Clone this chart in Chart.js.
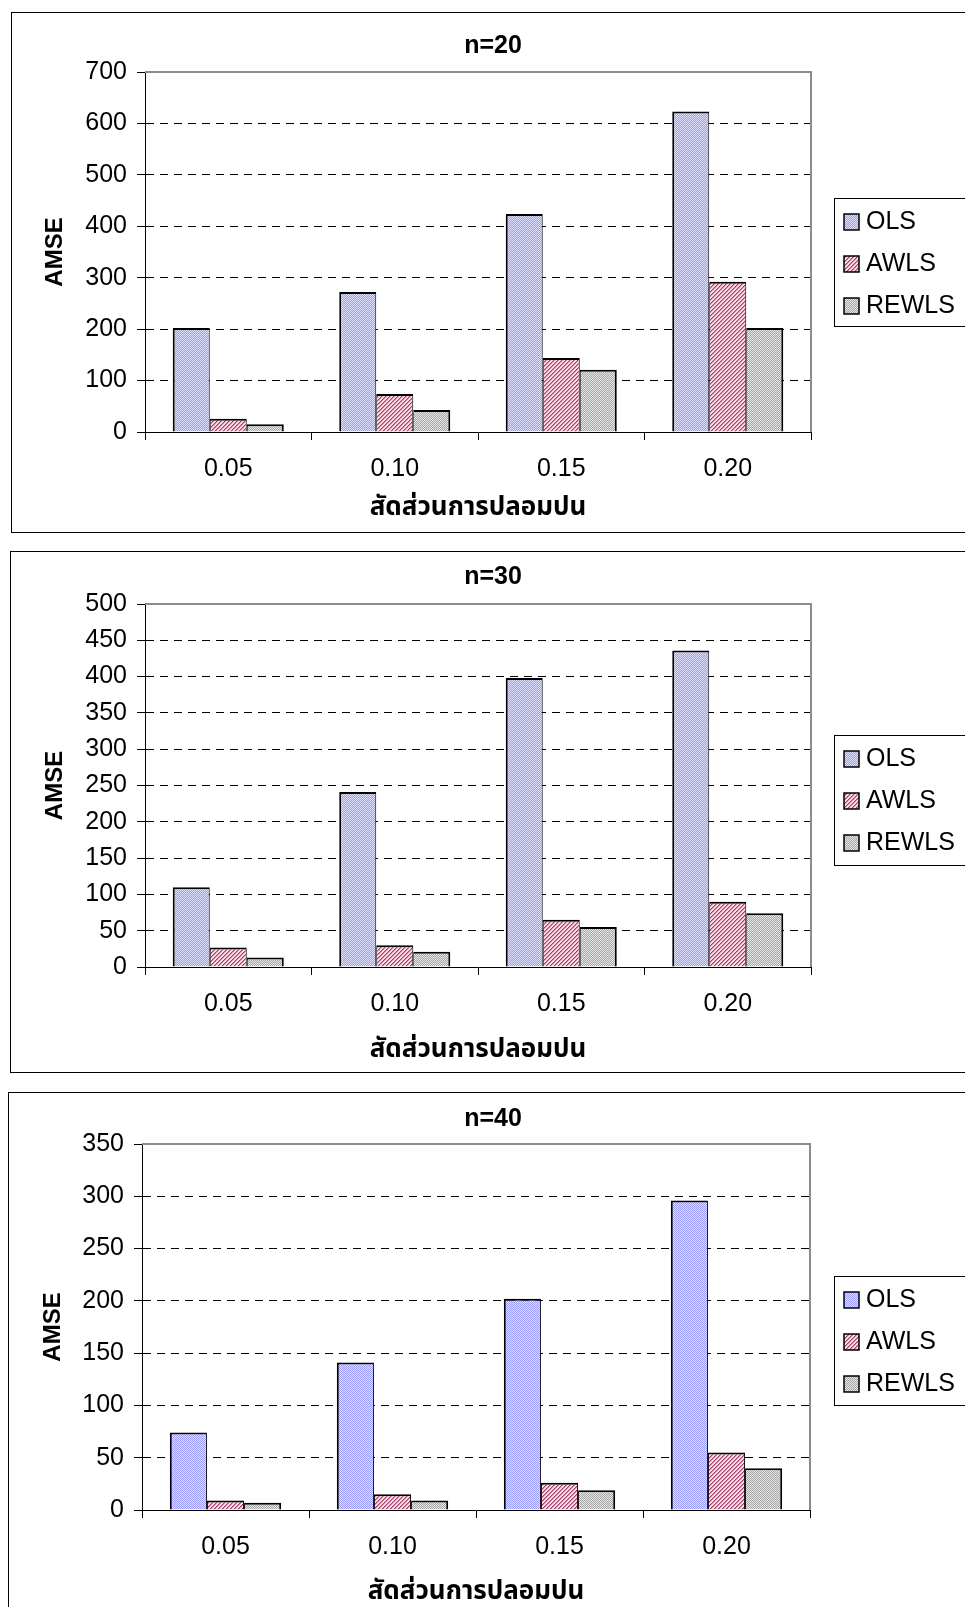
<!DOCTYPE html>
<html>
<head>
<meta charset="utf-8">
<script src="https://cdn.jsdelivr.net/npm/chart.js@4.4.1/dist/chart.umd.min.js"></script>
<style>
  html, body { margin: 0; padding: 0; background: #fff; width: 965px; height: 1607px; overflow: hidden; position: relative; }
  .frame { position: absolute; border: 1px solid #000; background: #fff; box-sizing: content-box; }
  canvas { display: block; }
</style>
</head>
<body>
<div class="frame" id="f1"><canvas id="c1"></canvas></div>
<div class="frame" id="f2"><canvas id="c2"></canvas></div>
<div class="frame" id="f3"><canvas id="c3"></canvas></div>
<script>
// data
const categories = ['0.05', '0.10', '0.15', '0.20'];
const seriesNames = ['OLS', 'AWLS', 'REWLS'];

const ols20 = [202, 272, 424, 623];
const awls20 = [26, 74, 144, 292];
const rewls20 = [15, 43, 121, 202];
const yTicks20 = [0, 100, 200, 300, 400, 500, 600, 700];

const ols30 = [110, 241, 398, 436];
const awls30 = [27, 30, 65, 90];
const rewls30 = [13, 21, 55, 74];
const yTicks30 = [0, 50, 100, 150, 200, 250, 300, 350, 400, 450, 500];

const ols40 = [74, 141, 202, 296];
const awls40 = [9, 15, 26, 55];
const rewls40 = [7, 9, 19, 40];
const yTicks40 = [0, 50, 100, 150, 200, 250, 300, 350];

const xTitle = 'สัดส่วนการปลอมปน';
const yTitle = 'AMSE';

const FONT = 'Arial, "Liberation Sans", sans-serif';
const THAI_FONT = 'Tahoma, "Noto Sans Thai", Loma, Garuda, Arial, sans-serif';

// fill patterns like the old excel hatches
function makePattern(size, painter) {
  const c = document.createElement('canvas');
  c.width = size; c.height = size;
  const x = c.getContext('2d');
  for (let i = 0; i < size; i++) {
    for (let j = 0; j < size; j++) {
      x.fillStyle = painter(i, j);
      x.fillRect(i, j, 1, 1);
    }
  }
  return x.createPattern(c, 'repeat');
}
const patterns = [
  makePattern(2, (i, j) => (i + j) % 2 ? '#dedeff' : '#9c9cff'),
  makePattern(4, (i, j) => ((i + j) % 4 === 0) ? '#a03c68' : ((i + j) % 4 === 1 ? '#d88aa6' : '#f8dce6')),
  makePattern(2, (i, j) => (i + j) % 2 ? '#e6e6e6' : '#a6a6a6')
];
const borders = [
  { top: 2, left: 2, right: 1, bottom: 0 },
  { top: 2, left: 1, right: 1, bottom: 0 },
  { top: 2, left: 1, right: 2, bottom: 0 }
];

const plotFrame = {
  id: 'plotFrame',
  beforeDatasetsDraw(chart) {
    const { ctx, chartArea: a } = chart;
    ctx.save();
    ctx.strokeStyle = '#8c8c8c';
    ctx.lineWidth = 2;
    ctx.beginPath();
    ctx.moveTo(a.left, a.top);
    ctx.lineTo(a.right, a.top);
    ctx.lineTo(a.right, a.bottom);
    ctx.stroke();
    ctx.restore();
  }
};

const boxLegend = {
  id: 'boxLegend',
  afterDraw(chart, args, o) {
    const ctx = chart.ctx;
    ctx.save();
    ctx.fillStyle = '#fff';
    ctx.fillRect(o.x, o.y, o.w, o.h);
    ctx.strokeStyle = '#000';
    ctx.lineWidth = 1;
    ctx.strokeRect(o.x + 0.5, o.y + 0.5, o.w, o.h);
    ctx.font = '25px ' + FONT;
    ctx.textBaseline = 'middle';
    chart.data.datasets.forEach((ds, i) => {
      const cy = o.y + 24 + i * 42;
      ctx.fillStyle = ds.backgroundColor;
      ctx.fillRect(o.x + 10, cy - 8, 15, 16);
      ctx.lineWidth = 1.5;
      ctx.strokeStyle = '#000';
      ctx.strokeRect(o.x + 10, cy - 8, 15, 16);
      ctx.fillStyle = '#000';
      ctx.fillText(ds.label, o.x + 32, cy);
    });
    ctx.restore();
  }
};

function makeChart(canvasId, frameId, titleText, sets, yTicks, g) {
  const W = 1000, H = g.frameH;
  const frame = document.getElementById(frameId);
  frame.style.left = g.frameX + 'px';
  frame.style.top = g.frameY + 'px';
  frame.style.width = W + 'px';
  frame.style.height = H + 'px';
  const ox = g.frameX + 1, oy = g.frameY + 1;
  const canvas = document.getElementById(canvasId);
  canvas.width = W; canvas.height = H;
  canvas.style.width = W + 'px'; canvas.style.height = H + 'px';

  const left = g.plotL - ox, right = g.plotR - ox, top = g.plotT - oy, bottom = g.plotB - oy;
  // title is centred on [0, titleRight]
  const titleRight = 2 * (g.titleX - ox);
  const titleLH = 25 * 1.2, axisLH = 26 * 1.2;
  const yMax = yTicks[yTicks.length - 1];

  return new Chart(canvas, {
    type: 'bar',
    data: {
      labels: categories,
      datasets: sets.map((vals, i) => ({
        label: seriesNames[i],
        data: vals,
        backgroundColor: patterns[i],
        borderColor: '#000',
        borderWidth: borders[i],
        borderSkipped: 'start',
        categoryPercentage: 0.667,
        barPercentage: 1
      }))
    },
    options: {
      responsive: false,
      animation: false,
      devicePixelRatio: 1,
      layout: { padding: { left: 0, top: 0, bottom: 0, right: W - titleRight } },
      plugins: {
        legend: { display: false },
        tooltip: { enabled: false },
        title: {
          display: true,
          text: titleText,
          color: '#000',
          font: { family: FONT, size: 25, weight: 'bold' },
          padding: { top: g.titleY - oy - titleLH / 2, bottom: top - (g.titleY - oy) - titleLH / 2 }
        },
        boxLegend: { x: g.legendX - ox, y: g.legendY - oy, w: 200, h: g.legendH }
      },
      scales: {
        x: {
          offset: true,
          afterFit: s => { s.height = H - bottom; },
          grid: { offset: true, drawOnChartArea: false, drawTicks: true, tickLength: 8, tickColor: '#000', color: '#000' },
          border: { display: true, color: '#000', width: 1 },
          ticks: { color: '#000', padding: 14, maxRotation: 0, font: { family: FONT, size: 25 } },
          title: {
            display: true,
            text: xTitle,
            color: '#000',
            font: { family: THAI_FONT, size: 26, weight: 'bold' },
            padding: { top: 0, bottom: H - (g.xTitleY - oy) - axisLH / 2 }
          }
        },
        y: {
          min: 0,
          max: yMax,
          afterBuildTicks: axis => { axis.ticks = yTicks.map(v => ({ value: v })); },
          afterFit: s => { s.width = left; },
          grid: {
            color: c => (c.tick && (c.tick.value === 0 || c.tick.value === yMax)) ? 'rgba(0,0,0,0)' : '#000',
            lineWidth: 1,
            tickLength: 8,
            tickColor: '#000',
            tickBorderDash: []
          },
          border: { display: true, color: '#000', width: 1, dash: [8, 6] },
          ticks: { color: '#000', padding: 10, font: { family: FONT, size: 25 } },
          title: {
            display: true,
            text: yTitle,
            color: '#000',
            font: { family: FONT, size: 24, weight: 'bold' },
            padding: { top: g.yTitleX - ox - 24 * 0.6, bottom: 0 }
          }
        },
        // empty right-hand axis, only keeps room for the legend box
        side: {
          type: 'linear',
          position: 'right',
          display: true,
          grid: { display: false, drawTicks: false },
          border: { display: false },
          ticks: { display: false },
          afterFit: s => { s.width = titleRight - right; }
        }
      }
    },
    plugins: [plotFrame, boxLegend]
  });
}

makeChart('c1', 'f1', 'n=20', [ols20, awls20, rewls20], yTicks20, {
  frameX: 11, frameY: 12, frameH: 519,
  plotL: 145, plotR: 811, plotT: 72, plotB: 432,
  titleX: 493, titleY: 46, xTitleY: 510, yTitleX: 55,
  legendX: 834, legendY: 198, legendH: 128
});
makeChart('c2', 'f2', 'n=30', [ols30, awls30, rewls30], yTicks30, {
  frameX: 10, frameY: 551, frameH: 520,
  plotL: 145, plotR: 811, plotT: 604, plotB: 967,
  titleX: 493, titleY: 577, xTitleY: 1052, yTitleX: 55,
  legendX: 834, legendY: 735, legendH: 130
});
makeChart('c3', 'f3', 'n=40', [ols40, awls40, rewls40], yTicks40, {
  frameX: 8, frameY: 1092, frameH: 560,
  plotL: 142, plotR: 810, plotT: 1144, plotB: 1510,
  titleX: 493, titleY: 1119, xTitleY: 1594, yTitleX: 53,
  legendX: 834, legendY: 1276, legendH: 129
});
</script>
</body>
</html>
